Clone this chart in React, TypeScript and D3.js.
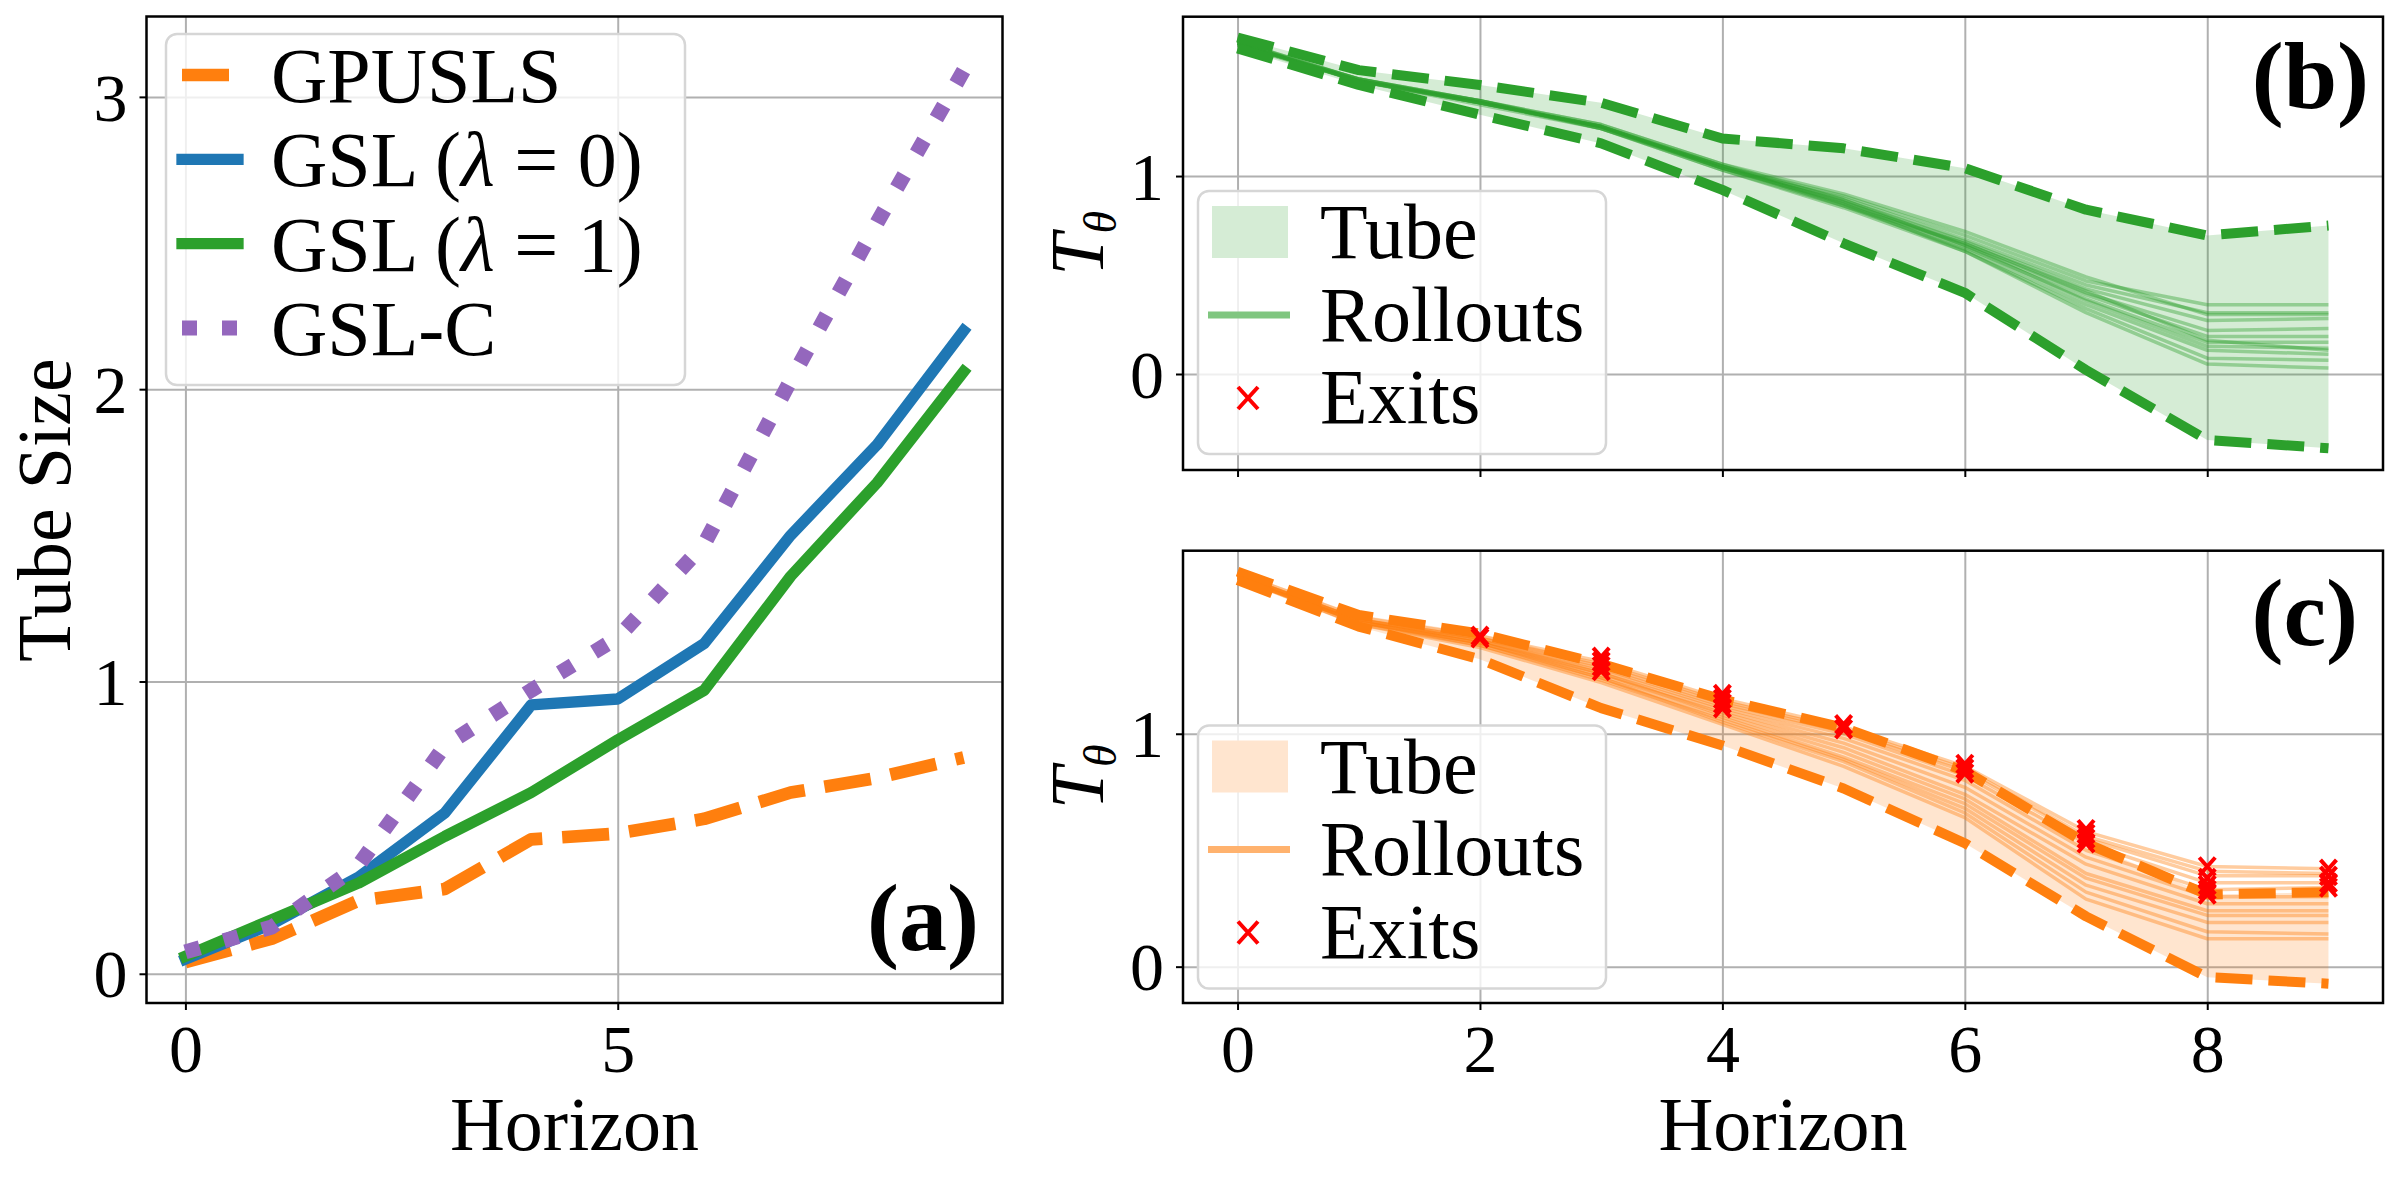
import React, { useEffect, useRef } from 'react';
import * as d3 from 'd3';

const horizon = [0, 1, 2, 3, 4, 5, 6, 7, 8, 9];

// (a) tube size vs horizon
const gpusls = [0.04, 0.12, 0.25, 0.29, 0.46, 0.48, 0.53, 0.62, 0.67, 0.74];
const gslLambda0 = [0.05, 0.17, 0.33, 0.55, 0.92, 0.94, 1.13, 1.5, 1.81, 2.2];
const gslLambda1 = [0.06, 0.185, 0.31, 0.47, 0.62, 0.8, 0.97, 1.36, 1.68, 2.06];
const gslC = [0.075, 0.16, 0.37, 0.78, 0.97, 1.15, 1.47, 2.03, 2.57, 3.09];

// (b) GSL tube and rollouts
const tubeUpperB = [1.7, 1.535, 1.46, 1.37, 1.19, 1.14, 1.04, 0.83, 0.7, 0.75];
const tubeLowerB = [1.645, 1.46, 1.31, 1.165, 0.93, 0.66, 0.41, 0.02, -0.333, -0.375];
const rolloutsB = [
    [1.68, 1.49, 1.38, 1.25, 1.05, 0.9, 0.7, 0.47, 0.35, 0.35],
    [1.67, 1.49, 1.37, 1.25, 1.04, 0.89, 0.68, 0.45, 0.31, 0.31],
    [1.67, 1.48, 1.38, 1.24, 1.05, 0.88, 0.67, 0.43, 0.27, 0.28],
    [1.66, 1.48, 1.37, 1.25, 1.04, 0.87, 0.66, 0.41, 0.22, 0.23],
    [1.67, 1.49, 1.38, 1.26, 1.06, 0.88, 0.65, 0.4, 0.19, 0.19],
    [1.68, 1.48, 1.37, 1.25, 1.05, 0.86, 0.64, 0.38, 0.16, 0.16],
    [1.67, 1.48, 1.38, 1.24, 1.04, 0.87, 0.65, 0.37, 0.14, 0.13],
    [1.66, 1.49, 1.37, 1.25, 1.05, 0.85, 0.63, 0.35, 0.12, 0.1],
    [1.67, 1.48, 1.36, 1.24, 1.03, 0.84, 0.62, 0.33, 0.08, 0.07],
    [1.67, 1.48, 1.37, 1.25, 1.04, 0.86, 0.62, 0.31, 0.05, 0.03],
    [1.68, 1.49, 1.38, 1.26, 1.06, 0.91, 0.72, 0.49, 0.3, 0.3],
    [1.67, 1.48, 1.37, 1.24, 1.03, 0.85, 0.66, 0.42, 0.17, 0.12],
];

// (c) GPUSLS tube, rollouts and exit points
const tubeUpperC = [1.696, 1.51, 1.43, 1.3, 1.147, 1.026, 0.84, 0.53, 0.31, 0.32];
const tubeLowerC = [1.66, 1.46, 1.32, 1.11, 0.95, 0.765, 0.53, 0.216, -0.045, -0.073];
const rolloutsC = [
    [1.69, 1.5, 1.42, 1.31, 1.15, 1.03, 0.86, 0.58, 0.43, 0.42],
    [1.68, 1.49, 1.41, 1.29, 1.13, 1.01, 0.84, 0.55, 0.39, 0.39],
    [1.68, 1.49, 1.4, 1.28, 1.12, 1.0, 0.82, 0.53, 0.36, 0.36],
    [1.68, 1.48, 1.4, 1.27, 1.11, 0.98, 0.8, 0.5, 0.33, 0.34],
    [1.67, 1.48, 1.39, 1.26, 1.1, 0.96, 0.77, 0.47, 0.3, 0.3],
    [1.67, 1.48, 1.39, 1.25, 1.09, 0.94, 0.74, 0.44, 0.27, 0.27],
    [1.68, 1.49, 1.4, 1.26, 1.08, 0.92, 0.72, 0.4, 0.24, 0.24],
    [1.67, 1.48, 1.39, 1.24, 1.07, 0.9, 0.7, 0.38, 0.22, 0.22],
    [1.67, 1.47, 1.38, 1.23, 1.06, 0.89, 0.68, 0.35, 0.19, 0.19],
    [1.67, 1.48, 1.38, 1.24, 1.05, 0.88, 0.66, 0.32, 0.15, 0.14],
    [1.67, 1.47, 1.37, 1.22, 1.04, 0.86, 0.64, 0.29, 0.12, 0.12],
    [1.68, 1.49, 1.41, 1.3, 1.14, 1.02, 0.85, 0.56, 0.41, 0.4],
];
const exitStepsC = [2, 2, 3, 3, 3, 3, 4, 4, 4, 4, 5, 5, 6, 6, 6, 7, 7, 7, 7, 8, 8, 8, 8, 8, 9, 9, 9, 9];
const exitValuesC = [1.42, 1.41, 1.33, 1.31, 1.29, 1.27, 1.17, 1.15, 1.13, 1.11, 1.04, 1.02, 0.87, 0.85, 0.83,
    0.59, 0.57, 0.55, 0.53, 0.43, 0.38, 0.35, 0.33, 0.31, 0.42, 0.39, 0.36, 0.34];

const sizeTicks = [0, 1, 2, 3];
const horizonTicksA = [0, 5];
const horizonTicksBC = [0, 2, 4, 6, 8];
const thetaTicks = [0, 1];

const FONT = "'Liberation Serif', 'Times New Roman', serif";
const GRID = '#b0b0b0';
const ORANGE = '#ff7f0e';
const BLUE = '#1f77b4';
const GREEN = '#2ca02c';
const PURPLE = '#9467bd';

const App = () => {
    const ref = useRef<SVGSVGElement>(null);

    useEffect(() => {
        const svg = d3.select(ref.current);
        svg.selectAll('*').remove();

        const xA = d3.scaleLinear().domain([-0.45, 9.45]).range([146.5, 1002.5]);
        const yA = d3.scaleLinear().domain([-0.1, 3.275]).range([1003, 16.5]);
        const xBC = d3.scaleLinear().domain([-0.45, 9.45]).range([1183, 2383]);
        const yB = d3.scaleLinear().domain([-0.485, 1.805]).range([470, 16.7]);
        const yC = d3.scaleLinear().domain([-0.156, 1.786]).range([1003, 550.7]);

        const grid = (x: any, y: any, xt: number[], yt: number[]) => {
            const g = svg.append('g');
            const [y0, y1] = y.range();
            const [x0, x1] = x.range();
            g.append('g').attr('transform', `translate(0,${y0})`)
                .call(d3.axisBottom(x).tickValues(xt).tickSize(-(y0 - y1)).tickFormat(() => ''))
                .call((s: any) => s.select('.domain').remove())
                .selectAll('line').attr('stroke', GRID).attr('stroke-width', 2);
            g.append('g').attr('transform', `translate(${x0},0)`)
                .call(d3.axisLeft(y).tickValues(yt).tickSize(-(x1 - x0)).tickFormat(() => ''))
                .call((s: any) => s.select('.domain').remove())
                .selectAll('line').attr('stroke', GRID).attr('stroke-width', 2);
        };

        const axes = (x: any, y: any, xt: number[], yt: number[], xLabels: boolean) => {
            const [y0, y1] = y.range();
            const [x0, x1] = x.range();
            const bottom = svg.append('g').attr('transform', `translate(0,${y0})`)
                .call(d3.axisBottom(x).tickValues(xt).tickSize(7).tickFormat(xLabels ? d3.format('d') : () => ''));
            bottom.select('.domain').remove();
            bottom.selectAll('line').attr('stroke', '#000').attr('stroke-width', 2);
            bottom.selectAll('text').attr('y', 69).attr('dy', null)
                .attr('font-family', FONT).attr('font-size', 68).attr('fill', '#000');
            const left = svg.append('g').attr('transform', `translate(${x0},0)`)
                .call(d3.axisLeft(y).tickValues(yt).tickSize(7).tickPadding(12).tickFormat(d3.format('d')));
            left.select('.domain').remove();
            left.selectAll('line').attr('stroke', '#000').attr('stroke-width', 2);
            left.selectAll('text').attr('dy', '0.34em')
                .attr('font-family', FONT).attr('font-size', 68).attr('fill', '#000');
            svg.append('rect')
                .attr('x', x0).attr('y', y1).attr('width', x1 - x0).attr('height', y0 - y1)
                .attr('fill', 'none').attr('stroke', '#000').attr('stroke-width', 2.5);
        };

        const line = (x: any, y: any) => d3.line<number>()
            .x((d, i) => x(horizon[i]))
            .y((d) => y(d));

        // ---------- panel (a)
        grid(xA, yA, horizonTicksA, sizeTicks);
        const seriesA = [
            {values: gpusls, color: ORANGE, width: 12.7, dash: '47,20', cap: 'butt'},
            {values: gslLambda0, color: BLUE, width: 11.3, dash: null, cap: 'square'},
            {values: gslLambda1, color: GREEN, width: 11.3, dash: null, cap: 'square'},
            {values: gslC, color: PURPLE, width: 15, dash: '15,25', cap: 'butt'},
        ];
        seriesA.forEach((s) => {
            svg.append('path')
                .attr('d', line(xA, yA)(s.values))
                .attr('fill', 'none')
                .attr('stroke', s.color)
                .attr('stroke-width', s.width)
                .attr('stroke-dasharray', s.dash)
                .attr('stroke-linecap', s.cap)
                .attr('stroke-linejoin', 'round');
        });
        axes(xA, yA, horizonTicksA, sizeTicks, true);

        // legend (a)
        const legA = svg.append('g');
        legA.append('rect').attr('x', 166).attr('y', 34).attr('width', 519).attr('height', 351).attr('rx', 11)
            .attr('fill', '#fff').attr('fill-opacity', 0.8).attr('stroke', '#d6d6d6').attr('stroke-width', 2.5);
        const labelsA = [['GPUSLS'], ['GSL (', 'λ', ' = 0)'], ['GSL (', 'λ', ' = 1)'], ['GSL-C']];
        seriesA.forEach((s, i) => {
            const cy = 75 + i * 84.3;
            legA.append('line').attr('x1', 182).attr('x2', 238).attr('y1', cy).attr('y2', cy)
                .attr('stroke', s.color).attr('stroke-width', s.width)
                .attr('stroke-dasharray', s.dash).attr('stroke-linecap', s.cap);
            const t = legA.append('text').attr('x', 271).attr('y', cy + 27)
                .attr('font-family', FONT).attr('font-size', 78);
            labelsA[i].forEach((part, j) => {
                t.append('tspan').attr('font-style', j === 1 ? 'italic' : 'normal').text(part);
            });
        });

        svg.append('text').attr('x', 979).attr('y', 950).attr('text-anchor', 'end')
            .attr('font-family', FONT).attr('font-weight', 'bold').attr('font-size', 96).text('(a)');

        svg.append('text').attr('transform', 'translate(70,510) rotate(-90)').attr('text-anchor', 'middle')
            .attr('font-family', FONT).attr('font-size', 76).text('Tube Size');
        svg.append('text').attr('x', 574.5).attr('y', 1150).attr('text-anchor', 'middle')
            .attr('font-family', FONT).attr('font-size', 76).text('Horizon');

        // ---------- panels (b) and (c)
        const tubePanel = (y: any, upper: number[], lower: number[], rollouts: number[][], color: string,
                           tint: string, handle: string, top: number, tag: string, tagX: number, tagY: number) => {
            grid(xBC, y, horizonTicksBC, thetaTicks);
            const area = d3.area<number>()
                .x((d, i) => xBC(horizon[i]))
                .y0((d, i) => y(lower[i]))
                .y1((d) => y(d));
            svg.append('path').attr('d', area(upper)).attr('fill', color).attr('fill-opacity', 0.2);
            rollouts.forEach((r) => {
                svg.append('path').attr('d', line(xBC, y)(r)).attr('fill', 'none')
                    .attr('stroke', color).attr('stroke-opacity', 0.4).attr('stroke-width', 3.5)
                    .attr('stroke-linejoin', 'round');
            });
            [upper, lower].forEach((b) => {
                svg.append('path').attr('d', line(xBC, y)(b)).attr('fill', 'none')
                    .attr('stroke', color).attr('stroke-width', 10).attr('stroke-dasharray', '37,16')
                    .attr('stroke-linejoin', 'round');
            });

            const leg = svg.append('g');
            leg.append('rect').attr('x', 1198).attr('y', top).attr('width', 408).attr('height', 263).attr('rx', 11)
                .attr('fill', '#fff').attr('fill-opacity', 0.8).attr('stroke', '#d6d6d6').attr('stroke-width', 2.5);
            leg.append('rect').attr('x', 1212).attr('y', top + 15).attr('width', 76).attr('height', 52)
                .attr('fill', tint);
            leg.append('line').attr('x1', 1208).attr('x2', 1290).attr('y1', top + 124).attr('y2', top + 124)
                .attr('stroke', handle).attr('stroke-width', 7);
            leg.append('path').attr('transform', `translate(1248,${top + 207})`)
                .attr('d', 'M-10,-11L10,11M-10,11L10,-11').attr('stroke', '#ff0000').attr('stroke-width', 4);
            ['Tube', 'Rollouts', 'Exits'].forEach((name, i) => {
                leg.append('text').attr('x', 1320).attr('y', top + 67 + i * 82.5)
                    .attr('font-family', FONT).attr('font-size', 78).text(name);
            });

            svg.append('text').attr('x', tagX).attr('y', tagY).attr('text-anchor', 'end')
                .attr('font-family', FONT).attr('font-weight', 'bold').attr('font-size', 96).text(tag);

            const [y0, y1] = y.range();
            const lab = svg.append('text').attr('transform', `translate(1103,${(y0 + y1) / 2}) rotate(-90)`)
                .attr('text-anchor', 'middle').attr('font-family', FONT).attr('font-size', 76);
            lab.append('tspan').attr('font-style', 'italic').text('T');
            lab.append('tspan').attr('font-style', 'italic').attr('font-size', 46).attr('dy', 13).text('θ');
        };

        tubePanel(yB, tubeUpperB, tubeLowerB, rolloutsB, GREEN, '#d5ecd5', '#80c680', 191, '(b)', 2369, 108);
        axes(xBC, yB, horizonTicksBC, thetaTicks, false);

        tubePanel(yC, tubeUpperC, tubeLowerC, rolloutsC, ORANGE, '#ffe5cf', '#ffb26e', 725.5, '(c)', 2358, 645);
        svg.append('g').selectAll('path')
            .data(exitStepsC)
            .join('path')
            .attr('transform', (d, i) => `translate(${xBC(d)},${yC(exitValuesC[i])})`)
            .attr('d', 'M-8,-9L8,9M-8,9L8,-9')
            .attr('stroke', '#ff0000').attr('stroke-width', 4);
        axes(xBC, yC, horizonTicksBC, thetaTicks, true);

        svg.append('text').attr('x', 1783).attr('y', 1150).attr('text-anchor', 'middle')
            .attr('font-family', FONT).attr('font-size', 76).text('Horizon');
    }, []);

    return (
        <div style={{position: 'absolute', left: 0, top: 0}}>
            <svg ref={ref} width={2400} height={1180} style={{display: 'block', background: '#fff'}} />
        </div>
    );
};

export default App;
